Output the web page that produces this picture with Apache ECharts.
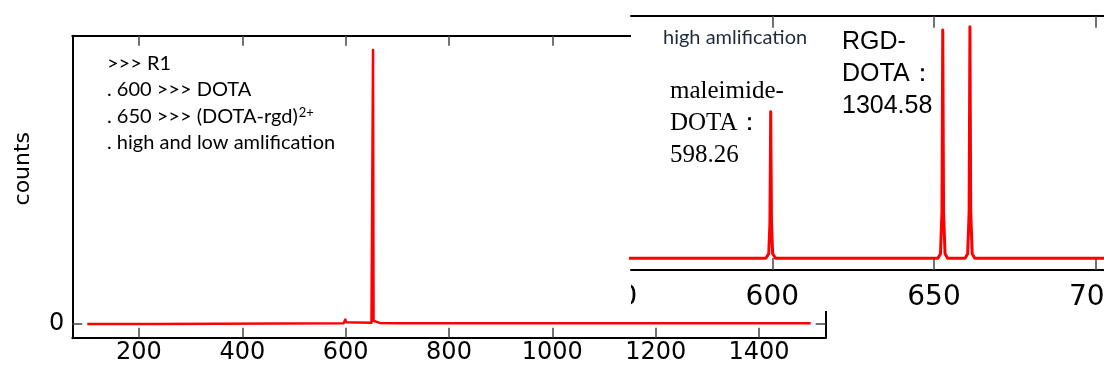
<!DOCTYPE html>
<html><head><meta charset="utf-8">
<script src="https://cdn.jsdelivr.net/npm/echarts@6/dist/echarts.min.js"></script>
<style>html,body{margin:0;padding:0;background:#fff}#c{width:1104px;height:374px}</style>
</head><body><div id="c"></div>
<script>
// ---- data ----
const mainMz     = [100, 230, 232, 596, 598.5, 599.5, 600.5, 603, 650, 652, 653, 654, 656, 660, 662, 666, 700, 1500];
const mainCounts = [0, 0, 0.25, 0.3, 0.6, 1.6, 0.6, 0.4, 0.5, 1.0, 100, 1.2, 0.7, 0.8, 0.7, 0.4, 0.3, 0.3];
const mainXTicks = [200, 400, 600, 800, 1000, 1200, 1400];
const mainYTicks = [0];

const insetMz     = [550, 598.0, 598.9, 599.25, 599.5, 599.75, 600.1, 601.0, 651.2, 652.0, 652.45, 652.7, 652.95, 653.4, 654.2, 659.6, 660.4, 660.85, 661.1, 661.35, 661.8, 662.6, 710];
const insetCounts = [0, 0, 2, 15, 63.3, 15, 2, 0, 0, 2, 20, 98.6, 20, 2, 0, 0, 2, 20, 100, 20, 2, 0, 0];
const insetXTicks = [550, 600, 650, 700];

const mainNotes  = ['>>> R1', '. 600 >>> DOTA', '. 650 >>> (DOTA-rgd)', '2+', '. high and low amlification'];
const insetTitle = 'high amlification';
const peakNoteA  = ['maleimide-', 'DOTA：', '598.26'];
const peakNoteB  = ['RGD-', 'DOTA：', '1304.58'];
const yName = 'counts';

const pairs = (xs, ys) => xs.map((x, i) => [x, ys[i]]);
const fmt = v => String(v);

const axisBase = (extra) => Object.assign({
  type: 'value',
  splitLine: { show: false },
  axisLine: { show: true, onZero: false, lineStyle: { color: '#000', width: 2 } },
}, extra);

const notesRich = '{n|' + mainNotes[0] + '}\n{n|' + mainNotes[1] + '}\n{n|' + mainNotes[2] + '}{s|' + mainNotes[3] + '}\n{n|' + mainNotes[4] + '}';

const option = {
  animation: false,
  backgroundColor: '#fff',
  grid: [
    { left: 72.3, top: 35.7, right: 278.3, bottom: 36.3, outerBoundsMode: 'none', containLabel: false },
    { left: 631, top: 15.7, width: 483, height: 254.3, outerBoundsMode: 'none', containLabel: false }
  ],
  xAxis: [
    axisBase({ gridIndex: 0, position: 'bottom', min: 71, max: 1529,
      axisTick: { show: true, inside: true, length: 10, customValues: mainXTicks, lineStyle: { color: '#444', width: 1.5 } },
      axisLabel: { show: true, customValues: mainXTicks, formatter: fmt, fontSize: 24, fontFamily: 'DejaVu Sans', color: '#000', margin: 3 } }),
    axisBase({ gridIndex: 0, position: 'top', min: 71, max: 1529,
      axisTick: { show: true, inside: true, length: 10, customValues: mainXTicks, lineStyle: { color: '#444', width: 1.5 } },
      axisLabel: { show: false } }),
    axisBase({ gridIndex: 1, position: 'bottom', min: 556.3, max: 705.65, z: 20,
      axisTick: { show: true, inside: true, length: 12, customValues: insetXTicks, lineStyle: { color: '#444', width: 1.5 } },
      axisLabel: { show: true, customValues: insetXTicks, formatter: fmt, fontSize: 28, fontFamily: 'DejaVu Sans', color: '#000', margin: 14 } }),
    axisBase({ gridIndex: 1, position: 'top', min: 556.3, max: 705.65, z: 20,
      axisTick: { show: true, inside: true, length: 12, customValues: insetXTicks, lineStyle: { color: '#444', width: 1.5 } },
      axisLabel: { show: false } })
  ],
  yAxis: [
    axisBase({ gridIndex: 0, position: 'left', min: -5, max: 105.2,
      name: yName, nameLocation: 'middle', nameGap: 38, nameRotate: 90,
      nameTextStyle: { fontSize: 22, fontFamily: 'DejaVu Sans', color: '#000', padding: [0, 0, 0, 36] },
      axisTick: { show: true, inside: true, length: 10, customValues: mainYTicks, lineStyle: { color: '#444', width: 1.5 } },
      axisLabel: { show: true, customValues: mainYTicks, formatter: fmt, fontSize: 24, fontFamily: 'DejaVu Sans', color: '#000', margin: 8 } }),
    axisBase({ gridIndex: 0, position: 'right', min: -5, max: 105.2,
      axisTick: { show: true, inside: true, length: 10, customValues: mainYTicks, lineStyle: { color: '#444', width: 1.5 } },
      axisLabel: { show: false } }),
    { type: 'value', gridIndex: 1, min: -5.05, max: 104.75, show: false, splitLine: { show: false } }
  ],
  series: [
    { type: 'line', xAxisIndex: 0, yAxisIndex: 0, data: pairs(mainMz, mainCounts), symbol: 'none',
      lineStyle: { color: '#ff0000', width: 2.5, join: 'round' }, z: 2 },
    { type: 'line', xAxisIndex: 2, yAxisIndex: 2, data: pairs(insetMz, insetCounts), symbol: 'none', clip: true,
      lineStyle: { color: '#ff0000', width: 3, join: 'round' }, z: 20 }
  ],
  graphic: [
    { type: 'rect', id: 'cover', z: 10, shape: { x: 631, y: 0, width: 480, height: 311 }, style: { fill: '#fff' } },
    { type: 'text', id: 'notes', z: 30, x: 107, y: 50,
      style: { text: notesRich, align: 'left', verticalAlign: 'top',
        rich: {
          n: { fontSize: 20, fontFamily: 'Lato', fill: '#000', color: '#000', lineHeight: 26.5 },
          s: { fontSize: 13, fontFamily: 'Lato', fill: '#000', color: '#000', lineHeight: 14, verticalAlign: 'top', padding: [3, 0, 0, 1] }
        } } },
    { type: 'text', id: 'insetTitle', z: 30, x: 663, y: 38,
      style: { text: insetTitle, fontSize: 20, fontFamily: 'Lato', fill: '#1f2a3c', align: 'left', verticalAlign: 'middle' } },
    { type: 'text', id: 'noteA', z: 30, x: 670, y: 75,
      style: { text: peakNoteA.join('\n'), fontSize: 25, fontFamily: 'Liberation Serif', fill: '#000', lineHeight: 32, align: 'left', verticalAlign: 'top' } },
    { type: 'text', id: 'noteB', z: 30, x: 842, y: 25.7,
      style: { text: peakNoteB.join('\n'), fontSize: 25, fontFamily: 'Liberation Sans', fill: '#000', lineHeight: 32, align: 'left', verticalAlign: 'top' } }
  ]
};

const chart = echarts.init(document.getElementById('c'), null, { renderer: 'canvas' });
chart.setOption(option);
// clipped inset tick label at the inset's left edge (value placed through the inset axis scale)
const px = chart.convertToPixel({ xAxisIndex: 2 }, insetXTicks[0]);
const insetLabelY = chart.convertToPixel({ yAxisIndex: 2 }, -5.05) + 14 + 14;
option.graphic.push(
  { type: 'text', id: 'clipLabel', z: 25, x: px, y: insetLabelY,
    style: { text: fmt(insetXTicks[0]), fontSize: 28, fontFamily: 'DejaVu Sans', fill: '#000', align: 'center', verticalAlign: 'middle' } },
  { type: 'rect', id: 'clipMask', z: 26, shape: { x: px - 40, y: insetLabelY - 18, width: 631 - (px - 40), height: 36 }, style: { fill: '#fff' } }
);
chart.setOption(option, { notMerge: true });
</script>
</body></html>
